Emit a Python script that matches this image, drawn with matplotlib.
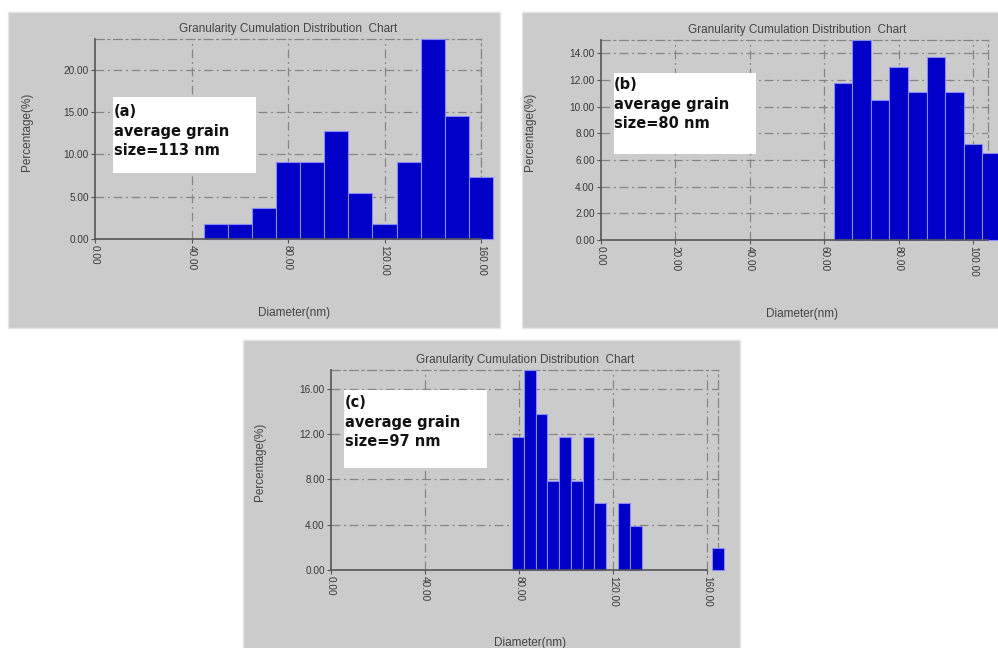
import matplotlib.pyplot as plt
from matplotlib.patches import Rectangle

W, H = 998, 648

# panel (a): bin centres (nm) and percentages
a_centers = [50, 60, 70, 80, 90, 100, 110, 120, 130, 140, 150, 160]
a_values = [1.82, 1.82, 3.64, 9.09, 9.09, 12.73, 5.45, 1.82, 9.09, 23.64, 14.55, 7.27]
a_yticks = [0, 5, 10, 15, 20]
a_xticks = [0, 40, 80, 120, 160]

# panel (b)
b_centers = [65, 70, 75, 80, 85, 90, 95, 100, 105]
b_values = [11.8, 15.0, 10.5, 13.0, 11.1, 13.7, 11.1, 7.2, 6.5]
b_yticks = [0, 2, 4, 6, 8, 10, 12, 14]
b_xticks = [0, 20, 40, 60, 80, 100]

# panel (c)
c_centers = [79.5, 84.5, 89.5, 94.5, 99.5, 104.5, 109.5, 114.5, 124.5, 129.5, 164.5]
c_values = [11.76, 17.65, 13.73, 7.84, 11.76, 7.84, 11.76, 5.88, 5.88, 3.92, 1.96]
c_yticks = [0, 4, 8, 12, 16]
c_xticks = [0, 40, 80, 120, 160]

title = "Granularity Cumulation Distribution  Chart"
notes = ["(a)\naverage grain\nsize=113 nm", "(b)\naverage grain\nsize=80 nm", "(c)\naverage grain\nsize=97 nm"]

plt.rcParams["font.family"] = ["Liberation Sans", "DejaVu Sans"]
fig = plt.figure(figsize=(W / 100, H / 100), dpi=100)
fig.patch.set_facecolor("white")

DASH = (0, (7, 3, 1.5, 3))


def fx(x):
    return x / W


def fy(y):
    return 1 - y / H


def panel(rect, axbox, centers, values, width, xlim, xticks, ylim, yticks,
          bottom_end, title_xy, ylab_xy, xlab_xy, box, note, note_xy):
    x0, y0, x1, y1 = rect
    fig.add_artist(Rectangle((fx(x0), fy(y1)), fx(x1 - x0), (y1 - y0) / H,
                             transform=fig.transFigure, facecolor="#cbcbcb",
                             edgecolor="#e4e4e4", lw=1, zorder=0))
    l, t, r, b = axbox
    ax = fig.add_axes([fx(l), fy(b), fx(r - l), (b - t) / H])
    ax.set_facecolor("none")
    ax.bar(centers, values, width=width, color="#0000c8", edgecolor="#8a8aff",
           linewidth=0.8, clip_on=False, zorder=3)
    ax.set_xlim(*xlim)
    ax.set_ylim(*ylim)
    ax.set_xticks(xticks)
    ax.set_yticks(yticks)
    ax.set_xticklabels(["%.2f" % v for v in xticks], rotation=-90, fontsize=7.2, color="#383838")
    ax.set_yticklabels(["%.2f" % v for v in yticks], fontsize=7.2, color="#383838")
    ax.tick_params(length=3, width=0.8, color="#555555", pad=1.5)
    for v in xticks[1:]:
        ax.axvline(v, color="#858585", lw=0.9, ls=DASH, zorder=1)
    for v in yticks[1:]:
        ax.axhline(v, color="#858585", lw=0.9, ls=DASH, zorder=1)
    for s in ["top", "right"]:
        ax.spines[s].set_color("#858585")
        ax.spines[s].set_linestyle(DASH)
        ax.spines[s].set_linewidth(0.9)
    for s in ["left", "bottom"]:
        ax.spines[s].set_color("#555555")
        ax.spines[s].set_linewidth(1.2)
        ax.spines[s].set_zorder(4)
    ax.spines["bottom"].set_bounds(0, bottom_end)

    fig.text(fx(title_xy[0]), fy(title_xy[1]), title, ha="center", va="center",
             fontsize=8.5, color="#444444")
    fig.text(fx(ylab_xy[0]), fy(ylab_xy[1]), "Percentage(%)", ha="center", va="center",
             rotation=90, fontsize=8.5, color="#444444")
    fig.text(fx(xlab_xy[0]), fy(xlab_xy[1]), "Diameter(nm)", ha="center", va="center",
             fontsize=8.5, color="#444444")

    bx0, by0, bx1, by1 = box
    fig.add_artist(Rectangle((fx(bx0), fy(by1)), fx(bx1 - bx0), (by1 - by0) / H,
                             transform=fig.transFigure, facecolor="white",
                             edgecolor="none", zorder=5))
    fig.text(fx(note_xy[0]), fy(note_xy[1]), note, ha="left", va="top",
             fontsize=10.5, fontweight="bold", family="DejaVu Sans",
             color="#111111", linespacing=1.38, zorder=6)
    return ax


panel((8, 12, 500, 328), (95, 39, 481, 239), a_centers, a_values, 10,
      (0, 160), a_xticks, (0, 23.64), a_yticks, 160,
      (288, 29), (27, 132), (294, 313),
      (113, 97, 256, 173), notes[0], (114, 104))

panel((522, 12, 1000, 328), (601, 40, 988, 240), b_centers, b_values, 5,
      (0, 104), b_xticks, (0, 15.0), b_yticks, 104,
      (797, 30), (530, 132), (802, 314),
      (614, 73, 756, 154), notes[1], (614, 77))

panel((243, 340, 740, 650), (331, 370, 718, 570), c_centers, c_values, 5,
      (0, 164.5), c_xticks, (0, 17.65), c_yticks, 160,
      (525, 360), (260, 462), (530, 643),
      (344, 390, 487, 468), notes[2], (345, 395))

fig.savefig("out.png", dpi=100)
